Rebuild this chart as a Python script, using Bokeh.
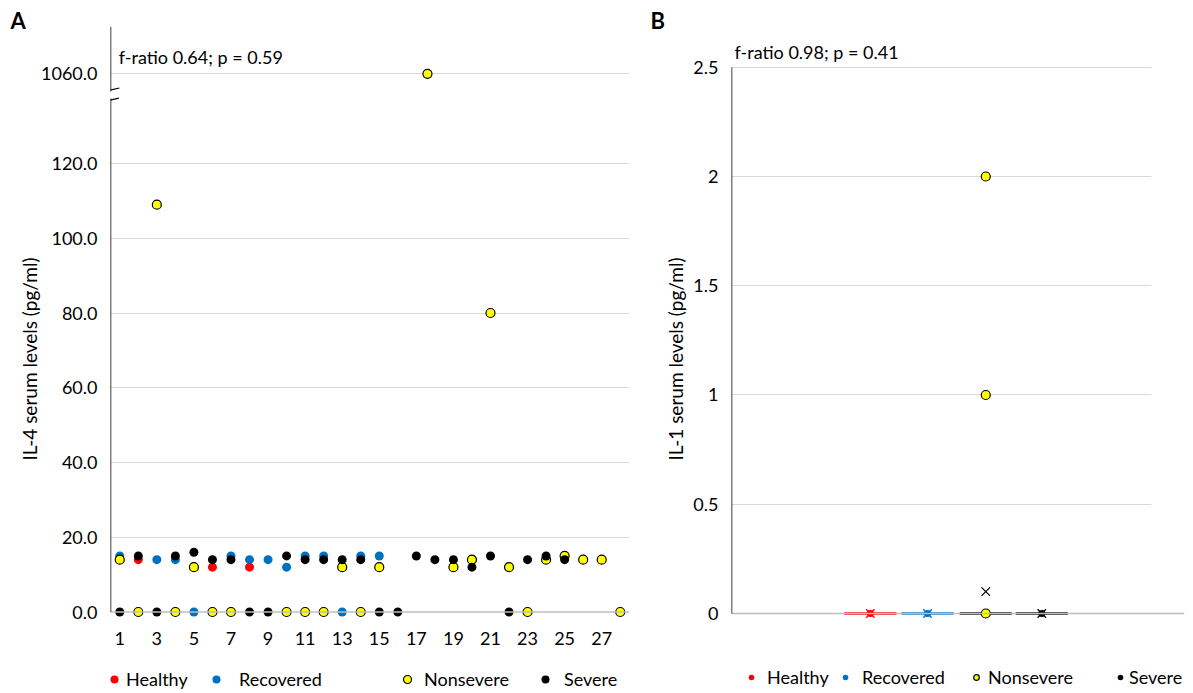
from bokeh.plotting import figure
from bokeh.models import Range1d, FixedTicker, Label, Legend, LegendItem, Arrow, Span, Grid
from bokeh.layouts import row
from bokeh.embed import file_html
from bokeh.resources import INLINE

FONT = "Lato"
FS = "18px"
FS_AX = "19px"

# ---------------- Panel A data (IL-4) ----------------
healthy_x = [2, 6, 7, 8]
healthy_y = [14, 12, 0, 12]
recovered_x = [1, 3, 4, 5, 7, 8, 9, 10, 11, 12, 13, 14, 15]
recovered_y = [15, 14, 14, 0, 15, 14, 14, 12, 15, 15, 0, 15, 15]
nonsevere_x = [1, 2, 3, 4, 5, 6, 7, 10, 11, 12, 13, 14, 15, 17.6, 19, 20, 21, 22, 23, 24, 25, 26, 27, 28]
nonsevere_y = [14, 0, 109, 0, 12, 0, 0, 0, 0, 0, 12, 0, 12, 1060, 12, 14, 80, 12, 0, 14, 15, 14, 14, 0]
severe_x = [1, 2, 3, 4, 5, 6, 7, 8, 9, 10, 11, 12, 13, 14, 15, 16, 17, 18, 19, 20, 21, 22, 23, 24, 25]
severe_y = [0, 15, 0, 15, 16, 14, 14, 0, 0, 15, 14, 14, 14, 14, 0, 0, 15, 14, 14, 12, 15, 0, 14, 15, 14]
a_x_ticks = [1, 3, 5, 7, 9, 11, 13, 15, 17, 19, 21, 23, 25, 27]
a_y_ticks = [0, 20, 40, 60, 80, 100, 120, 1060]
a_y_labels = ["0.0", "20.0", "40.0", "60.0", "80.0", "100.0", "120.0", "1060.0"]
a_note = "f-ratio 0.64; p = 0.59"

# ---------------- Panel B data (IL-1) ----------------
b_groups = ["Healthy", "Recovered", "Nonsevere", "Severe"]
b_medians = [0, 0, 0, 0]
b_means = [0, 0, 0.1, 0]
b_healthy = [0]
b_recovered = [0]
b_nonsevere = [0, 1, 2]
b_severe = [0]
b_y_ticks = [0, 0.5, 1, 1.5, 2, 2.5]
b_y_labels = ["0", "0.5", "1", "1.5", "2", "2.5"]
b_note = "f-ratio 0.98; p = 0.41"

RED, BLUE, YEL, BLK = "#FF0000", "#0070C0", "#FFFF00", "#000000"
GRID, ZERO = "#D9D9D9", "#BFBFBF"

# broken axis: values above BREAK are compressed to sit at 144
BREAK = 130
def disp(v):
    return v if v < BREAK else 144 + (v - 1060) * 0.01

TOP, FH, BOT = 26, 665, 1
HAS_CB = "cross_bounds" in Grid.properties()


def style_axis(ax):
    ax.major_label_text_font = FONT
    ax.major_label_text_font_size = FS
    ax.major_label_text_color = "#000000"
    ax.axis_label_text_font = FONT
    ax.axis_label_text_font_size = FS_AX
    ax.axis_label_text_font_style = "normal"
    ax.axis_label_text_color = "#000000"
    ax.major_tick_line_color = None
    ax.minor_tick_line_color = None
    ax.major_tick_out = 0
    ax.major_tick_in = 0
    ax.axis_line_color = None


def style_title(p, text, offset):
    p.title.text = text
    p.title.align = "left"
    p.title.offset = offset
    try:
        p.title.standoff = -14
    except Exception:
        p.title.standoff = 0
    p.title.text_font = FONT
    p.title.text_font_size = "22px"
    p.title.text_font_style = "bold"
    p.title.text_color = "#000000"


def add_leg(p, r, label, vx, vy, gw, gh, standoff):
    leg = Legend(items=[LegendItem(label=label, renderers=[r])], location=(vx, vy),
                 orientation="horizontal", padding=0, margin=0, spacing=0,
                 border_line_color=None, background_fill_alpha=0,
                 glyph_width=gw, glyph_height=gh, label_height=gh, label_standoff=standoff,
                 label_text_font=FONT, label_text_font_size=FS, label_text_color="#000000",
                 label_text_baseline="middle")
    p.add_layout(leg, "center")


# ================= Panel A =================
pA = figure(frame_width=519, frame_height=FH, x_range=Range1d(0.5, 28.5),
            y_range=Range1d(-21.27, 156.66), output_backend="svg", toolbar_location=None,
            min_border_left=110, min_border_right=20, min_border_top=TOP, min_border_bottom=BOT)
style_title(pA, "A", -100)
pA.outline_line_color = None
pA.xgrid.visible = False
yt = [disp(v) for v in a_y_ticks]
pA.ygrid.ticker = FixedTicker(ticks=yt[1:])
pA.ygrid.grid_line_color = GRID
pA.add_layout(Span(location=0, dimension="width", line_color=ZERO, line_width=1.3))

pA.yaxis.ticker = FixedTicker(ticks=yt)
pA.yaxis.bounds = (-2, 147.8)
pA.yaxis.major_label_overrides = {t: l for t, l in zip(yt, a_y_labels)}
pA.yaxis.major_label_standoff = 13
pA.yaxis.axis_label = "IL-4 serum levels (pg/ml)"
pA.yaxis.axis_label_standoff = -3
pA.xaxis.ticker = FixedTicker(ticks=a_x_ticks)
pA.xaxis.fixed_location = 0
pA.xaxis.major_label_standoff = 20
style_axis(pA.xaxis[0])
style_axis(pA.yaxis[0])

# y axis line with a break
yb0, yb1 = 137.4, 139.3
pA.add_layout(Arrow(end=None, x_start=0.5, y_start=0, x_end=0.5, y_end=yb0, line_color="black", line_width=1.5))
pA.add_layout(Arrow(end=None, x_start=0.5, y_start=yb1, x_end=0.5, y_end=156.66, line_color="black", line_width=1.5))
pA.add_layout(Arrow(end=None, x_start=0.07, y_start=139.2, x_end=0.98, y_end=140.2, line_color="black", line_width=1.2))
pA.add_layout(Arrow(end=None, x_start=0.04, y_start=136.5, x_end=0.95, y_end=137.5, line_color="black", line_width=1.2))

MS = 9
rh = pA.scatter(healthy_x, [disp(v) for v in healthy_y], size=MS, fill_color=RED, line_color=None)
rr = pA.scatter(recovered_x, [disp(v) for v in recovered_y], size=MS, fill_color=BLUE, line_color=None)
rn = pA.scatter(nonsevere_x, [disp(v) for v in nonsevere_y], size=MS, fill_color=YEL, line_color="black", line_width=1.2)
rs = pA.scatter(severe_x, [disp(v) for v in severe_y], size=MS, fill_color=BLK, line_color=None)

pA.add_layout(Label(x=0.948, y=148.6, text=a_note, text_font=FONT, text_font_size=FS,
                    text_color="#000000", text_align="left", text_baseline="middle"))

add_leg(pA, rh, "Healthy", -6, 1, 20, 20, 2)
add_leg(pA, rr, "Recovered", 96, 1, 20, 20, 13)
add_leg(pA, rn, "Nonsevere", 287, 1, 20, 20, 7)
add_leg(pA, rs, "Severe", 425, 1, 20, 20, 9)

# ================= Panel B =================
BX0, BX1 = -1.43, 5.92
FW_B = 453 if HAS_CB else 420
BX_END = BX0 + (BX1 - BX0) * FW_B / 420.0
pB = figure(frame_width=FW_B, frame_height=FH, x_range=Range1d(BX0, BX_END),
            y_range=Range1d(-0.357, 2.6865), output_backend="svg", toolbar_location=None,
            min_border_left=82, min_border_right=1, min_border_top=TOP, min_border_bottom=BOT)
style_title(pB, "B", -81)
pB.outline_line_color = None
pB.xgrid.visible = False
pB.ygrid.ticker = FixedTicker(ticks=b_y_ticks[1:])
pB.ygrid.grid_line_color = GRID
if HAS_CB:
    pB.ygrid.cross_bounds = (BX0, BX1)
pB.add_layout(Span(location=0, dimension="width", line_color=ZERO, line_width=1.3))
pB.yaxis.ticker = FixedTicker(ticks=b_y_ticks)
pB.yaxis.bounds = (-0.08, 2.5)
pB.yaxis.major_label_overrides = {t: l for t, l in zip(b_y_ticks, b_y_labels)}
pB.yaxis.major_label_standoff = 13
pB.yaxis.axis_label = "IL-1 serum levels (pg/ml)"
pB.yaxis.axis_label_standoff = 3
style_axis(pB.yaxis[0])
pB.xaxis.visible = False
pB.add_layout(Arrow(end=None, x_start=BX0, y_start=0, x_end=BX0, y_end=2.5, line_color="black", line_width=1.5))

cols = [RED, BLUE, BLK, BLK]
xpos = [1, 2, 3.02, 4]
hw = 0.455
pB.segment(x0=[x - hw for x in xpos], y0=b_medians, x1=[x + hw for x in xpos], y1=b_medians,
           line_color=cols, line_width=2.5)
bh = pB.scatter([xpos[0]] * len(b_healthy), b_healthy, size=7, fill_color=RED, line_color=None)
br = pB.scatter([xpos[1]] * len(b_recovered), b_recovered, size=7, fill_color=BLUE, line_color=None)
bs = pB.scatter([xpos[3]] * len(b_severe), b_severe, size=7, fill_color=BLK, line_color=None)
pB.scatter(xpos, b_means, marker="x", size=12, line_color=[RED, BLUE, BLK, BLK], line_width=1.3)
bn = pB.scatter([xpos[2]] * len(b_nonsevere), b_nonsevere, size=9, fill_color=YEL, line_color="black", line_width=1.2)

pB.add_layout(Label(x=-1.377, y=2.572, text=b_note, text_font=FONT, text_font_size=FS,
                    text_color="#000000", text_align="left", text_baseline="middle"))

if HAS_CB:
    b_leg_x = [13, 107, 238, 382]
else:
    b_leg_x = [13, 107, 238, 352]
add_leg(pB, bh, "Healthy", b_leg_x[0], 3, 14, 20, 9)
add_leg(pB, br, "Recovered", b_leg_x[1], 3, 14, 20, 10)
add_leg(pB, bn, "Nonsevere", b_leg_x[2], 3, 14, 20, 5)
add_leg(pB, bs, "Severe", b_leg_x[3], 3, 14, 20, 2)

layout = row(pA, pB)
open("out.html", "w").write(file_html(layout, INLINE))
